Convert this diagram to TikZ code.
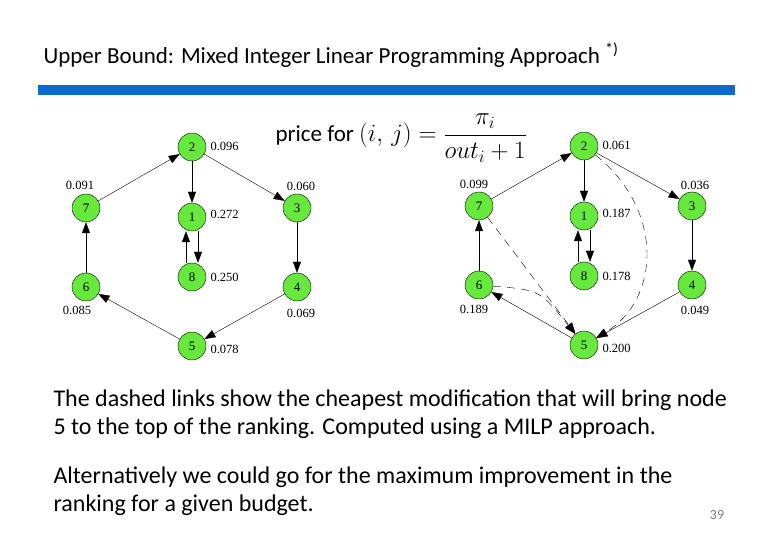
\documentclass[tikz,border=0pt]{standalone}
\usepackage{fontspec}
\setmainfont{Carlito}
\newfontfamily\graphfont{Liberation Serif}
\usetikzlibrary{arrows.meta}
\definecolor{barblue}{HTML}{0A6AD2}
\definecolor{nodegreen}{HTML}{66E83C}

\tikzset{
  pr/.style={circle,draw,fill=nodegreen,minimum size=28pt,inner sep=0pt,font=\graphfont\fontsize{13}{14}\selectfont},
  val/.style={font=\graphfont\fontsize{12.5}{14}\selectfont},
  link/.style={-{Triangle[length=11pt,width=8pt]},thin},
  cheap/.style={link,dash pattern=on 8pt off 6pt}
}

\begin{document}
\begin{tikzpicture}[x=1pt,y=-1pt]
\useasboundingbox (0,0) rectangle (780,540);

\node[anchor=west,font=\fontsize{23}{26}\selectfont] (title) at (40,55)
  {Upper Bound: Mixed Integer Linear Programming Approach \textsuperscript{*)}};
\fill[barblue] (38,85) rectangle (735,95);

\node[anchor=west,font=\fontsize{23}{26}\selectfont] (price) at (272,138)
  {price for $(i,\,j)=\displaystyle\frac{\pi_i}{out_i+1}$};

% left graph
\node[pr] (l2) at (192,147) {2};
\node[pr] (l7) at (86,208) {7};
\node[pr] (l1) at (192,217) {1};
\node[pr] (l3) at (297,208) {3};
\node[pr] (l8) at (192,277) {8};
\node[pr] (l6) at (86,287) {6};
\node[pr] (l4) at (297,287) {4};
\node[pr] (l5) at (192,346) {5};

\node[val,anchor=west] at (207,146) {0.096};
\node[val] at (80,185) {0.091};
\node[val,anchor=west] at (207,214) {0.272};
\node[val] at (301,186) {0.060};
\node[val,anchor=west] at (207,277) {0.250};
\node[val] at (77,310) {0.085};
\node[val] at (301,313) {0.069};
\node[val,anchor=west] at (207,349) {0.078};

\draw[link] (l7) -- (l2);
\draw[link] (l2) -- (l3);
\draw[link] (l2) -- (l1);
\draw[link] (l3) -- (l4);
\draw[link] (l4) -- (l5);
\draw[link] (l5) -- (l6);
\draw[link] (l6) -- (l7);
\draw[link] ([xshift=6pt]l1.south) -- ([xshift=6pt]l8.north);
\draw[link] ([xshift=-6pt]l8.north) -- ([xshift=-6pt]l1.south);

% right graph
\node[pr] (r2) at (584,146) {2};
\node[pr] (r7) at (479,206) {7};
\node[pr] (r1) at (584,216) {1};
\node[pr] (r3) at (692,206) {3};
\node[pr] (r8) at (584,276) {8};
\node[pr] (r6) at (479,285) {6};
\node[pr] (r4) at (692,285) {4};
\node[pr] (r5) at (584,345) {5};

\node[val,anchor=west] at (599,145) {0.061};
\node[val] at (474,184) {0.099};
\node[val,anchor=west] at (599,213) {0.187};
\node[val] at (695,185) {0.036};
\node[val,anchor=west] at (599,276) {0.178};
\node[val] at (474,309) {0.189};
\node[val] at (695,310) {0.049};
\node[val,anchor=west] at (599,348) {0.200};

\draw[link] (r7) -- (r2);
\draw[link] (r2) -- (r3);
\draw[link] (r2) -- (r1);
\draw[link] (r3) -- (r4);
\draw[link] (r4) -- (r5);
\draw[link] (r5) -- (r6);
\draw[link] (r6) -- (r7);
\draw[link] ([xshift=6pt]r1.south) -- ([xshift=6pt]r8.north);
\draw[link] ([xshift=-6pt]r8.north) -- ([xshift=-6pt]r1.south);
\draw[cheap] (r7) -- (r5);
\draw[cheap] (r6) .. controls (540,290) .. (r5);
\draw[cheap] (r2) .. controls (665,210) and (660,300) .. (r5);

\node[anchor=north west,align=left,font=\fontsize{24}{28}\selectfont] (note) at (50,386)
  {The dashed links show the cheapest modification that will bring node\\
   5 to the top of the ranking. Computed using a MILP approach.};
\node[anchor=north west,align=left,font=\fontsize{24}{28}\selectfont] (alt) at (50,463)
  {Alternatively we could go for the maximum improvement in the\\
   ranking for a given budget.};
\node[font=\fontsize{14}{16}\selectfont,text=gray] (page) at (717,515) {39};
\end{tikzpicture}
\end{document}
